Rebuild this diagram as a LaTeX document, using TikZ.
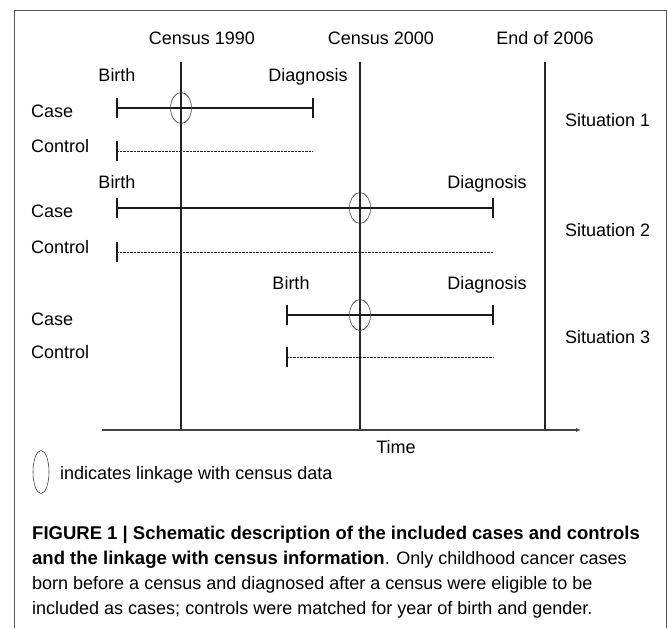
\documentclass[tikz,border=0pt]{standalone}
\usepackage{fontspec}
\setmainfont{Liberation Sans}
\usetikzlibrary{positioning,arrows.meta,shapes.geometric}

\begin{document}
\begin{tikzpicture}[x=1pt, y=-1pt,
    lbl/.style={font=\fontsize{18}{21}\selectfont, inner sep=0pt, anchor=base},
    censusline/.style={line width=1.2pt, black!85},
    casebar/.style={line width=1.3pt, black!90},
    ctrlbar/.style={line width=0.7pt, black!85, dash pattern=on 0.7pt off 0.7pt},
    endtick/.style={line width=1.2pt, black!90},
    linkage/.style={draw, ellipse, line width=0.6pt, black!75, inner sep=0pt,
      minimum width=21pt, minimum height=31pt}]

    \useasboundingbox (0,0) rectangle (668,628);

    % Draw frame (open at the bottom)
    \draw[black!65, line width=1pt] (14,628) -- (14,11) -- (666,11) -- (666,628);

    % Census lines and their labels
    \foreach \n/\x/\lx/\t in {c90/181/202/Census 1990, c00/360/381/Census 2000, end/545/545/End of 2006} {
      \node[lbl] (\n-lbl) at (\lx,45) {\t};
      \coordinate (\n-top) at (\x,62);
      \coordinate (\n-bot) at (\x,430);
      \draw[censusline] (\n-top) -- (\n-bot);
    }

    % Time axis
    \coordinate (axis-start) at (102,430);
    \coordinate (axis-end) at (581,430);
    \draw[line width=1.2pt, black!75, -{Latex[length=5pt,width=4pt]}] (axis-start) -- (axis-end);
    \node[lbl] (time) at (396,453) {Time};

    % Cases and controls per situation
    \foreach \s/\yt/\yc/\yk/\ys/\xb/\xd/\xe/\bx/\dx in {
        1/82/108/151/127/117/313/181/117/308,
        2/189/208/252/236/117/493/360/117/487,
        3/289/315/357/343/287/493/360/291/487} {
      \node[lbl] (birth\s) at (\bx,\yt) {Birth};
      \node[lbl] (diag\s) at (\dx,\yt) {Diagnosis};
      \node[lbl, anchor=base west] (case\s) at (31,\yc+10) {Case};
      \node[lbl, anchor=base west] (control\s) at (31,\yk+1.5) {Control};
      \node[lbl, anchor=base west] (situation\s) at (565,\ys) {Situation \s};

      % case: birth to diagnosis
      \coordinate (cs\s) at (\xb,\yc);
      \coordinate (ce\s) at (\xd,\yc);
      \draw[casebar] (cs\s) -- (ce\s);
      \draw[endtick] ([yshift=10pt]cs\s) -- ([yshift=-10pt]cs\s);
      \draw[endtick] ([yshift=10pt]ce\s) -- ([yshift=-10pt]ce\s);
      \node[linkage] (link\s) at (\xe,\yc) {};

      % control: dotted follow-up
      \coordinate (ks\s) at (\xb,\yk);
      \coordinate (ke\s) at (\xd,\yk);
      \draw[ctrlbar] (ks\s) -- (ke\s);
      \draw[endtick] ([yshift=10pt]ks\s) -- ([yshift=-10pt]ks\s);
    }

    % Legend
    \node[linkage, minimum width=16pt, minimum height=43pt] (legend-mark) at (41,472) {};
    \node[lbl, anchor=base west] (legend-txt) at (60,479) {indicates linkage with census data};

    % Caption (base = last line)
    \node[anchor=base west, align=left, inner sep=0pt,
      font=\fontsize{18}{24.7}\selectfont] (caption) at (32,614)
      {{\fontsize{18.5}{24.7}\selectfont\bfseries FIGURE 1 | Schematic description of the included cases and controls}\\
       {\fontsize{18.5}{24.7}\selectfont\bfseries and the linkage with census information}. Only childhood cancer cases\\
       born before a census and diagnosed after a census were eligible to be\\
       included as cases; controls were matched for year of birth and gender.};
\end{tikzpicture}
\end{document}
